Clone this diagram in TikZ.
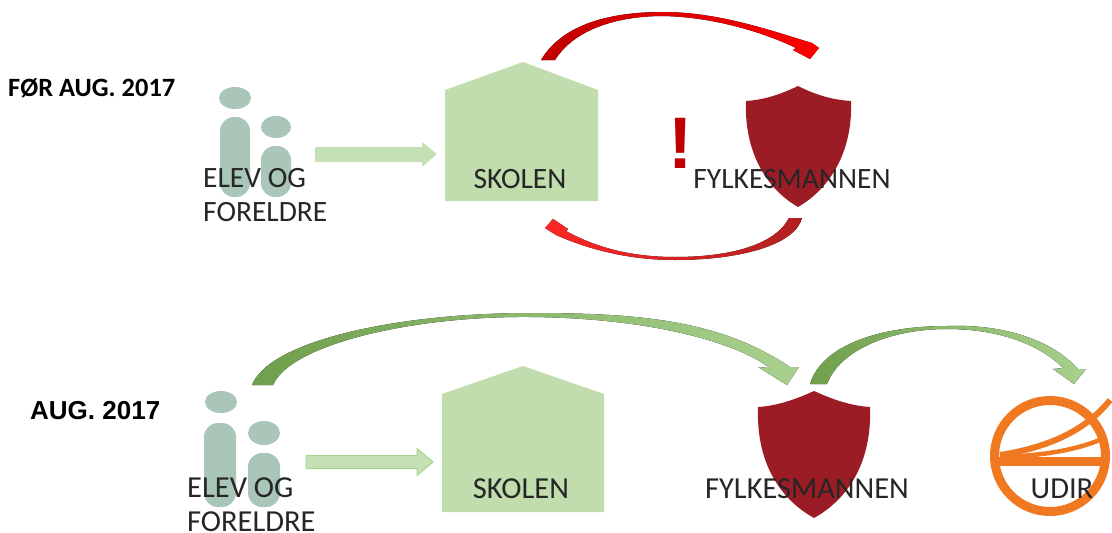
\documentclass[tikz,border=0pt]{standalone}
\usepackage{fontspec}
\setmainfont{Carlito}
\newfontfamily\headfont{Liberation Sans}
\usetikzlibrary{positioning}
\definecolor{housegreen}{HTML}{C1DDAE}
\definecolor{peoplegreen}{HTML}{A9C6B8}
\definecolor{arrowlight}{HTML}{C5E0B4}
\definecolor{arrowedge}{HTML}{A9D18E}
\definecolor{arrowdark}{HTML}{6F9F4C}
\definecolor{shieldred}{HTML}{9C1C26}
\definecolor{alertred}{HTML}{C00000}
\definecolor{udirorange}{HTML}{F07820}
\definecolor{labelgray}{HTML}{262626}
\tikzstyle{label} = [inner sep=0pt, text=labelgray, font=\fontsize{29.5}{34}\selectfont, align=left]
\tikzstyle{biglabel} = [label, font=\fontsize{30.5}{34}\selectfont]
\tikzstyle{period} = [inner sep=0pt, text=black, anchor=west]
\tikzstyle{people} = [fill=peoplegreen, rounded corners=14pt]
\tikzstyle{bentred} = [left color=alertred, right color=red]
\tikzstyle{bentgreen} = [left color=arrowdark, right color=arrowedge]
\begin{document}
\begin{tikzpicture}[x=1pt, y=-1pt]
   \useasboundingbox (0,0) rectangle (1112,533);
   % Upper row
   \node [period, font=\bfseries\fontsize{26.4}{30}\selectfont] (before) at (8,88) {FØR AUG. 2017};
   \fill [peoplegreen] (235,98) ellipse [x radius=16, y radius=11];
   \fill [peoplegreen] (276,127) ellipse [x radius=15, y radius=11];
   \fill [people] (220,117) rectangle (250,197);
   \fill [people] (261,146) rectangle (291,197);
   \fill [housegreen] (523,62) -- (598,90) -- (598,201) -- (445,201) -- (445,90) -- cycle;
   \fill [shieldred] (798,86) .. controls (775,97) and (760,100) .. (746,101) .. controls (744,150) and (765,188) .. (798,207) .. controls (831,188) and (853,150) .. (851,101) .. controls (836,100) and (820,97) .. (798,86) -- cycle;
   \node [label, anchor=west] (elev1) at (203,195) {ELEV OG\\FORELDRE};
   \node [label] (skolen1) at (520,179) {SKOLEN};
   \node [label] (fylke1) at (792,179) {FYLKESMANNEN};
   \node [inner sep=0pt, text=alertred, font=\headfont\bfseries\fontsize{73}{73}\selectfont] (alert) at (681,143.5) {!};
   \coordinate (elev1out) at (315,154);
   \coordinate (skolen1in) at (437,154);
   \fill [arrowlight] (elev1out) ++(0,-7) -- ++(107,0) -- ++(0,-5) -- (skolen1in) -- ++(-15,13) -- ++(0,-5) -- ++(-107,0) -- cycle;
   \coordinate (red1from) at (541,60);
   \coordinate (red1to) at (810,59);
   \fill [bentred] (red1from) .. controls (565,20) and (620,12) .. (663,12) .. controls (720,12) and (775,32) .. (812,43) -- (819,48) -- (red1to) -- (793,50) -- (796,48) .. controls (765,33) and (715,17) .. (663,16) .. controls (620,16) and (575,28) .. (555,60) -- cycle;
   \coordinate (red2from) at (802,218);
   \coordinate (red2to) at (545,228);
   \fill [left color=red!85!white, right color=alertred!75!gray] (red2from) .. controls (795,245) and (740,260) .. (675,260) .. controls (630,260) and (590,250) .. (556,235) -- (red2to) -- (553,219) -- (568,229) -- (566,231) .. controls (595,247) and (630,257) .. (675,257) .. controls (730,257) and (775,245) .. (789,218) -- cycle;
   % Lower row
   \node [period, font=\headfont\bfseries\fontsize{26}{30}\selectfont] (after) at (30,411) {AUG. 2017};
   \fill [peoplegreen] (221,402) ellipse [x radius=16, y radius=11];
   \fill [peoplegreen] (264,433) ellipse [x radius=16, y radius=12];
   \fill [people] (204,423) rectangle (236,507);
   \fill [people] (248,453) rectangle (280,507);
   \fill [housegreen] (523,366) -- (604,394) -- (604,512) -- (442,512) -- (442,394) -- cycle;
   \fill [shieldred] (814,391) .. controls (790,402) and (773,406) .. (758,407) .. controls (756,460) and (778,498) .. (814,518) .. controls (850,498) and (872,460) .. (870,407) .. controls (855,406) and (838,402) .. (814,391) -- cycle;
   \draw [udirorange, line width=9pt] (1050,456) circle [radius=55.5];
   \draw [udirorange, line width=6pt] (1000,455) .. controls (1045,448) and (1085,432) .. (1110,400);
   \draw [udirorange, line width=4.5pt] (1000,457) .. controls (1040,456) and (1080,450) .. (1106,437);
   \draw [udirorange, line width=8.5pt] (998,461.5) -- (1108,461.5);
   \node [biglabel, anchor=west] (elev2) at (187,505) {ELEV OG\\FORELDRE};
   \node [biglabel] (skolen2) at (521,489) {SKOLEN};
   \node [biglabel] (fylke2) at (807,489) {FYLKESMANNEN};
   \node [biglabel] (udir) at (1062,489) {UDIR};
   \coordinate (elev2out) at (306,462);
   \coordinate (skolen2in) at (433,462);
   \filldraw [fill=arrowlight, draw=arrowedge, line width=1pt] (elev2out) ++(0,-6.5) -- ++(111,0) -- ++(0,-7) -- (skolen2in) -- ++(-16,13.5) -- ++(0,-7) -- ++(-111,0) -- cycle;
   \coordinate (green1from) at (252,385);
   \coordinate (green1to) at (787,385);
   \fill [bentgreen] (green1from) .. controls (270,340) and (400,313) .. (530,313) .. controls (640,313) and (720,320) .. (790,367) -- (799,367) -- (green1to) -- (758,367) -- (770,368) .. controls (735,342) and (650,318) .. (530,317) .. controls (410,316) and (290,345) .. (273,385) -- cycle;
   \coordinate (green2from) at (810,384);
   \coordinate (green2to) at (1074,384);
   \fill [bentgreen] (green2from) .. controls (822,345) and (880,326) .. (947,326) .. controls (1000,324) and (1050,338) .. (1078,369) -- (1086,369) -- (green2to) -- (1053,369) -- (1063,368) .. controls (1040,345) and (1000,329) .. (947,329) .. controls (890,329) and (840,350) .. (827,384) -- cycle;
\end{tikzpicture}
\end{document}
